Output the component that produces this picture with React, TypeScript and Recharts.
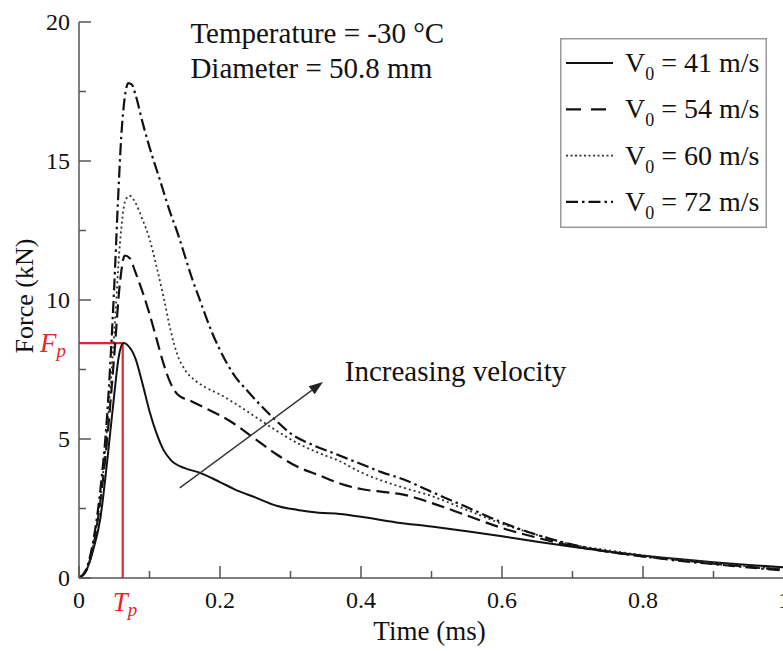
import React from "react";
import { LineChart, Line, XAxis, YAxis, Legend, ReferenceLine, ReferenceDot } from "recharts";

const FONT = '"Liberation Serif", "Times New Roman", serif';
const INK = "#111";
const AXIS = "#555";
const RED = "#e3262c";

// V0 = 41 m/s
const time41 = [0, 0.01, 0.02, 0.03, 0.04, 0.05, 0.056, 0.063, 0.07, 0.08, 0.09, 0.1, 0.11, 0.12, 0.13, 0.15, 0.17, 0.2, 0.22, 0.25, 0.28, 0.31, 0.34, 0.37, 0.4, 0.45, 0.5, 0.55, 0.6, 0.65, 0.7, 0.75, 0.8, 0.85, 0.9, 0.95, 1.0];
const force41 = [0, 0.25, 1.0, 2.1, 4.2, 6.6, 7.9, 8.45, 8.35, 7.9, 7.0, 6.0, 5.2, 4.6, 4.25, 3.95, 3.8, 3.45, 3.2, 2.9, 2.6, 2.45, 2.35, 2.3, 2.2, 2.0, 1.85, 1.68, 1.5, 1.3, 1.12, 0.95, 0.8, 0.68, 0.57, 0.47, 0.38];

// V0 = 54 m/s
const time54 = [0, 0.01, 0.02, 0.03, 0.04, 0.05, 0.058, 0.065, 0.072, 0.08, 0.09, 0.1, 0.11, 0.12, 0.13, 0.14, 0.16, 0.18, 0.2, 0.22, 0.25, 0.28, 0.31, 0.34, 0.37, 0.4, 0.43, 0.46, 0.5, 0.55, 0.6, 0.65, 0.7, 0.75, 0.8, 0.85, 0.9, 0.95, 1.0];
const force54 = [0, 0.25, 1.1, 2.7, 5.0, 8.0, 10.6, 11.6, 11.5, 11.0, 10.3, 9.5, 8.6, 7.7, 7.0, 6.6, 6.35, 6.1, 5.85, 5.55, 5.0, 4.45, 4.0, 3.7, 3.4, 3.2, 3.1, 3.0, 2.7, 2.25, 1.8, 1.45, 1.15, 0.95, 0.78, 0.65, 0.52, 0.4, 0.3];

// V0 = 60 m/s
const time60 = [0, 0.01, 0.02, 0.03, 0.04, 0.05, 0.058, 0.066, 0.072, 0.08, 0.09, 0.1, 0.11, 0.12, 0.13, 0.14, 0.15, 0.165, 0.18, 0.2, 0.22, 0.25, 0.28, 0.31, 0.34, 0.37, 0.4, 0.43, 0.46, 0.5, 0.55, 0.6, 0.65, 0.7, 0.75, 0.8, 0.85, 0.9, 0.95, 1.0];
const force60 = [0, 0.25, 1.15, 2.8, 5.4, 8.8, 12.0, 13.6, 13.75, 13.5, 12.9, 12.2, 11.2, 10.1, 8.9, 8.0, 7.5, 7.1, 6.85, 6.6, 6.3, 5.8, 5.3, 4.85, 4.5, 4.2, 3.8, 3.5, 3.25, 2.95, 2.45, 1.95, 1.55, 1.2, 1.0, 0.82, 0.68, 0.55, 0.42, 0.32];

// V0 = 72 m/s
const time72 = [0, 0.01, 0.02, 0.03, 0.04, 0.045, 0.05, 0.055, 0.06, 0.065, 0.07, 0.075, 0.08, 0.09, 0.1, 0.115, 0.13, 0.14, 0.15, 0.16, 0.17, 0.18, 0.19, 0.2, 0.22, 0.24, 0.26, 0.28, 0.3, 0.33, 0.36, 0.4, 0.43, 0.46, 0.5, 0.55, 0.6, 0.65, 0.7, 0.75, 0.8, 0.85, 0.9, 0.95, 1.0];
const force72 = [0, 0.3, 1.3, 3.1, 5.9, 8.0, 10.5, 13.4, 15.9, 17.3, 17.8, 17.75, 17.4, 16.4, 15.5, 14.3, 13.1, 12.4, 11.6, 10.8, 10.1, 9.4, 8.75, 8.2, 7.3, 6.7, 6.15, 5.65, 5.2, 4.8, 4.5, 4.1, 3.8, 3.55, 3.1, 2.55, 2.0, 1.55, 1.2, 0.95, 0.78, 0.62, 0.5, 0.38, 0.27];

const xMajor = [0, 0.2, 0.4, 0.6, 0.8, 1];
const xMinor = [0.1, 0.3, 0.5, 0.7, 0.9];
const yMajor = [0, 5, 10, 15, 20];
const yMinor = [2.5, 7.5, 12.5, 17.5];

// peak marker (F_p, T_p) and the "increasing velocity" arrow
const peakForce = 8.45;
const peakTime = 0.062;
const arrowFrom = { x: 0.143, y: 3.24 };
const arrowTo = { x: 0.346, y: 7.05 };

const zip = (t: number[], f: number[]) => t.map((v, i) => ({ t: v, f: f[i] }));

const series = [
  { name: "41 m/s", data: zip(time41, force41), stroke: INK, width: 2, dash: undefined, legendDash: undefined },
  { name: "54 m/s", data: zip(time54, force54), stroke: INK, width: 2.2, dash: "13 6", legendDash: "15 10" },
  { name: "60 m/s", data: zip(time60, force60), stroke: "#333", width: 1.8, dash: "2 3", legendDash: "2 2.5" },
  { name: "72 m/s", data: zip(time72, force72), stroke: INK, width: 2.2, dash: "12 4 2.5 4", legendDash: "12 4 2.5 4" },
];

function XTick({ x, y, payload }: any) {
  const v = payload.value;
  const major = xMajor.includes(v);
  return (
    <g>
      <line x1={x} x2={x} y1={y} y2={y - (major ? 12 : 7)} stroke={AXIS} strokeWidth={1.5} />
      {major && (
        <text x={x} y={y + 30} textAnchor="middle" fontSize={24} fontFamily={FONT} fill={INK}>
          {String(v)}
        </text>
      )}
    </g>
  );
}

function YTick({ x, y, payload }: any) {
  const v = payload.value;
  const major = yMajor.includes(v);
  return (
    <g>
      <line x1={x} x2={x + (major ? 12 : 7)} y1={y} y2={y} stroke={AXIS} strokeWidth={1.5} />
      {major && (
        <text x={x - 9} y={y + 8} textAnchor="end" fontSize={24} fontFamily={FONT} fill={INK}>
          {String(v)}
        </text>
      )}
    </g>
  );
}

function LegendBox({ payload }: any) {
  return (
    <svg width={207} height={190} style={{ display: "block" }}>
      <rect x={0.75} y={0.75} width={205.5} height={188.5} fill="#fff" stroke="#999" strokeWidth={1.5} />
      {(payload || []).map((p: any, i: number) => {
        const s = series.find((d) => d.name === p.value) || series[0];
        const cy = 25 + i * 46.3;
        return (
          <g key={p.value}>
            <line x1={6} x2={53} y1={cy} y2={cy} stroke={s.stroke} strokeWidth={s.width} strokeDasharray={s.legendDash} />
            <text x={65} y={cy + 9} fontSize={28} fontFamily={FONT} fill={INK}>
              V<tspan fontSize={18} dy={8}>0</tspan>
              <tspan dy={-8}>{" = " + p.value}</tspan>
            </text>
          </g>
        );
      })}
    </svg>
  );
}

function ArrowShape(props: any) {
  const { x1, y1, x2, y2 } = props;
  const ang = Math.atan2(y2 - y1, x2 - x1);
  const len = 14;
  const half = 5;
  const bx = x2 - len * Math.cos(ang);
  const by = y2 - len * Math.sin(ang);
  const px = -Math.sin(ang) * half;
  const py = Math.cos(ang) * half;
  return (
    <g>
      <line x1={x1} y1={y1} x2={bx} y2={by} stroke="#333" strokeWidth={1.4} />
      <polygon points={`${x2},${y2} ${bx + px},${by + py} ${bx - px},${by - py}`} fill="#222" />
    </g>
  );
}

const note = (text: string, size: number) => (p: any) => (
  <text x={p.viewBox.x} y={p.viewBox.y} fontSize={size} fontFamily={FONT} fill={INK}>
    {text}
  </text>
);

const fpLabel = (p: any) => (
  <text x={p.viewBox.x - 39} y={p.viewBox.y + 9} fontSize={27} fontStyle="italic" fontFamily={FONT} fill={RED}>
    F<tspan fontSize={19} dy={5}>p</tspan>
  </text>
);

const tpLabel = (p: any) => (
  <text x={p.viewBox.x - 10} y={p.viewBox.y + 33} fontSize={27} fontStyle="italic" fontFamily={FONT} fill={RED}>
    T<tspan fontSize={19} dy={5}>p</tspan>
  </text>
);

const yTitle = (p: any) => {
  const vb = p.viewBox;
  const cx = vb.x + 33;
  const cy = vb.y + vb.height / 2 - 4;
  return (
    <text x={cx} y={cy} transform={`rotate(-90 ${cx} ${cy})`} textAnchor="middle" fontSize={26} fontFamily={FONT} fill={INK}>
      Force (kN)
    </text>
  );
};

const xTitle = (p: any) => {
  const vb = p.viewBox;
  return (
    <text x={vb.x + vb.width / 2 - 2} y={vb.y + 62} textAnchor="middle" fontSize={27} fontFamily={FONT} fill={INK}>
      Time (ms)
    </text>
  );
};

export default function App() {
  return (
    <div style={{ position: "absolute", left: 0, top: 0, width: 783, height: 651, overflow: "hidden", background: "#fff" }}>
      <LineChart width={790} height={651} margin={{ top: 22, right: 6, bottom: 0, left: 0 }}>
        <XAxis
          dataKey="t"
          type="number"
          domain={[0, 1]}
          allowDataOverflow
          ticks={[...xMajor, ...xMinor].sort((a, b) => a - b)}
          interval={0}
          height={73}
          tickSize={0}
          tickMargin={0}
          tickLine={false}
          tick={<XTick />}
          axisLine={{ stroke: AXIS, strokeWidth: 1.5 }}
          label={xTitle}
        />
        <YAxis
          type="number"
          domain={[0, 20]}
          allowDataOverflow
          ticks={[...yMajor, ...yMinor].sort((a, b) => a - b)}
          interval={0}
          width={79}
          tickSize={0}
          tickMargin={0}
          tickLine={false}
          tick={<YTick />}
          axisLine={{ stroke: AXIS, strokeWidth: 1.5 }}
          label={yTitle}
        />
        <ReferenceLine segment={[{ x: 0, y: peakForce }, { x: peakTime, y: peakForce }]} stroke={RED} strokeWidth={2.2} />
        <ReferenceLine segment={[{ x: peakTime, y: 0 }, { x: peakTime, y: peakForce }]} stroke={RED} strokeWidth={2.2} />
        {series.map((s) => (
          <Line
            key={s.name}
            data={s.data}
            dataKey="f"
            name={s.name}
            type="monotone"
            stroke={s.stroke}
            strokeWidth={s.width}
            strokeDasharray={s.dash}
            dot={false}
            activeDot={false}
            isAnimationActive={false}
          />
        ))}
        <ReferenceLine segment={[arrowFrom, arrowTo]} shape={ArrowShape} />
        <ReferenceDot x={0.158} y={19.25} r={0} stroke="none" fill="none" label={note("Temperature = -30 °C", 29)} />
        <ReferenceDot x={0.158} y={18.0} r={0} stroke="none" fill="none" label={note("Diameter = 50.8 mm", 29)} />
        <ReferenceDot x={0.377} y={7.09} r={0} stroke="none" fill="none" label={note("Increasing velocity", 29)} />
        <ReferenceDot x={0} y={peakForce} r={0} stroke="none" fill="none" label={fpLabel} />
        <ReferenceDot x={peakTime} y={0} r={0} stroke="none" fill="none" label={tpLabel} />
        <Legend
          layout="vertical"
          align="center"
          verticalAlign="middle"
          content={<LegendBox />}
          wrapperStyle={{ left: 560, top: 38, width: 207, height: 190 }}
        />
      </LineChart>
    </div>
  );
}
